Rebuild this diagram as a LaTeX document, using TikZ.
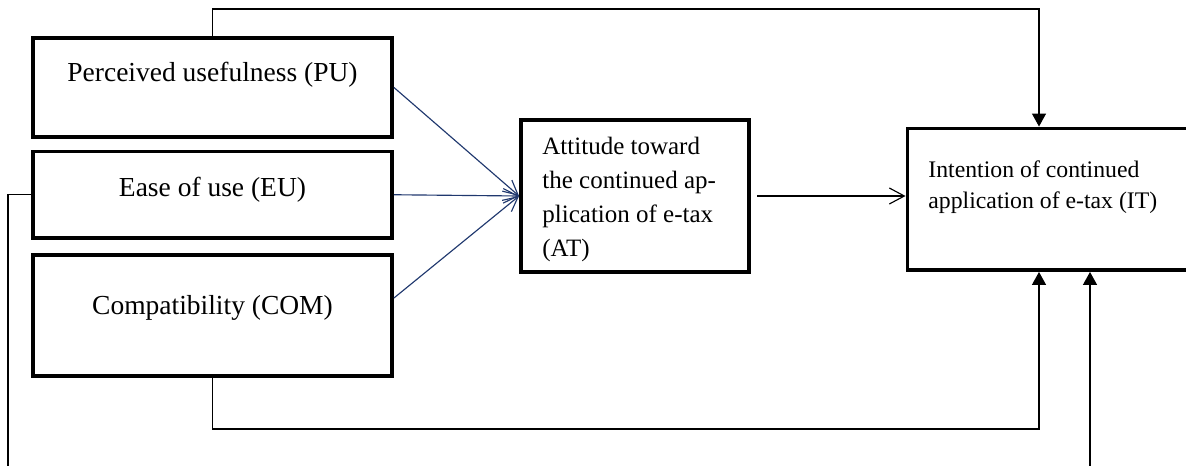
\documentclass[tikz,border=0pt]{standalone}
\usepackage{fontspec}
\setmainfont{Liberation Serif}
\usepackage{xcolor}
\usetikzlibrary{arrows.meta, positioning}

\definecolor{navyline}{RGB}{32,56,110}
\newcommand{\leftfont}{\fontsize{13.2pt}{16pt}\selectfont}

\tikzset{
  factor/.style={draw, line width=1.9pt, inner sep=0pt},
  navyarrow/.style={draw=navyline, line width=0.55pt, -{Straight Barb[length=7pt,width=7pt]}},
  openarrow/.style={line width=0.55pt, -{Straight Barb[length=7.2pt,width=7.7pt]}},
  fillarrow/.style={line width=0.55pt, -{Triangle[length=6.2pt,width=6.7pt]}},
}

\begin{document}
\begin{tikzpicture}[x=0.48pt,y=-0.48pt]
\useasboundingbox (0,0) rectangle (1186,466);
\clip (0,0) rectangle (1186,466);
\node[factor, minimum width=172.3pt, minimum height=47.5pt] (PU) at (212.5,87.5) {}; %PU
\node[anchor=base, font=\leftfont] (PU-txt) at (212.5,82) {Perceived usefulness (PU)};
\node[factor, minimum width=172.3pt, minimum height=41.5pt] (EU) at (212.5,194.75) {}; %EU
\node[anchor=base, font=\leftfont] (EU-txt) at (212.5,196.7) {Ease of use (EU)};
\node[factor, minimum width=172.3pt, minimum height=58.1pt] (COM) at (212.5,315.5) {}; %COM
\node[anchor=base, font=\leftfont] (COM-txt) at (212.5,315) {Compatibility (COM)};
\node[factor, minimum width=109.4pt, minimum height=73.4pt] (AT) at (635,196) {}; %AT
\node[anchor=north west, align=left, inner sep=0pt, font=\fontsize{12pt}{16.3pt}\selectfont] (AT-txt) at (542,137)
  {Attitude toward\\the continued ap-\\plication of e-tax\\(AT)};
\node[factor, minimum width=164.4pt, minimum height=67.9pt] (IT) at (1078.75,199.25) {}; %IT
\node[anchor=north west, align=left, inner sep=0pt, font=\fontsize{11.4pt}{14.9pt}\selectfont] (IT-txt) at (928,160.6)
  {Intention of continued\\application of e-tax (IT)};
\coordinate (top) at (1039,9);
\coordinate (bot) at (1039,429);
\coordinate (feed) at (8,520);
\coordinate (feedend) at (1090,520);
\draw[navyarrow] (PU.east) -- (AT.west);
\draw[navyarrow] (EU.east) -- (AT.west);
\draw[navyarrow] ([yshift=8.4pt]COM.east) -- (AT.west);
\draw[openarrow, shorten <=3pt] (AT.east) -- (AT.east -| IT.west);
\draw[fillarrow] (PU.north) |- (top) -- (top |- IT.north);
\draw[fillarrow] (COM.south) |- (bot) -- (bot |- IT.south);
\draw[fillarrow] (EU.west) -| (feed) -- (feedend) -- (feedend |- IT.south);
\end{tikzpicture}
\end{document}
